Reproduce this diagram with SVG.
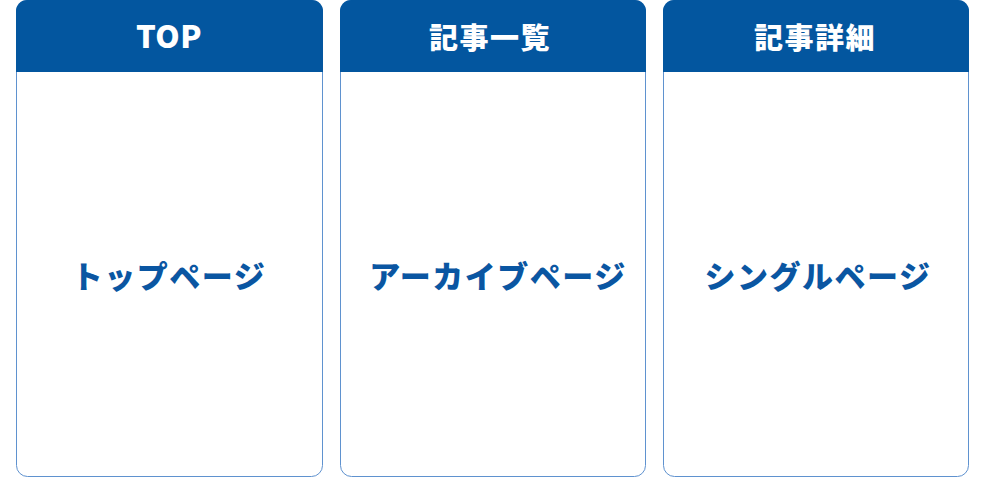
<svg xmlns="http://www.w3.org/2000/svg" width="986" height="478" viewBox="0 0 986 478">
<style>
.card{fill:#fff;stroke:#5f92cf;stroke-width:1}
.head{fill:#03569f}
.ht{font-family:"Noto Sans CJK JP","Noto Sans",sans-serif;font-weight:900;font-size:29px;fill:#fff;text-anchor:middle;letter-spacing:1.5px}
.bt{font-family:"Noto Sans CJK JP","Noto Sans",sans-serif;font-weight:900;font-size:31px;fill:#0a56a2;text-anchor:middle;letter-spacing:1.5px}
</style>
<rect width="986" height="478" fill="#fff"/>
<g id="card-top">
<rect class="card" x="16.5" y="0.5" width="306" height="476" rx="11"/>
<path class="head" d="M16,72 V11 A11,11 0 0 1 27,0 H312 A11,11 0 0 1 323,11 V72 Z"/>
<text class="ht" x="169" y="48" style="font-size:31px;letter-spacing:0.5px">TOP</text>
<text class="bt" x="169" y="288">トップページ</text>
</g>
<g id="card-archive">
<rect class="card" x="340.5" y="0.5" width="305" height="476" rx="11"/>
<path class="head" d="M340,72 V11 A11,11 0 0 1 351,0 H635 A11,11 0 0 1 646,11 V72 Z"/>
<text class="ht" x="490" y="49">記事一覧</text>
<text class="bt" x="498" y="288">アーカイブページ</text>
</g>
<g id="card-single">
<rect class="card" x="663.5" y="0.5" width="305" height="476" rx="11"/>
<path class="head" d="M663,72 V11 A11,11 0 0 1 674,0 H958 A11,11 0 0 1 969,11 V72 Z"/>
<text class="ht" x="815" y="49">記事詳細</text>
<text class="bt" x="818" y="288">シングルページ</text>
</g>
<g id="connectors"></g>
</svg>
